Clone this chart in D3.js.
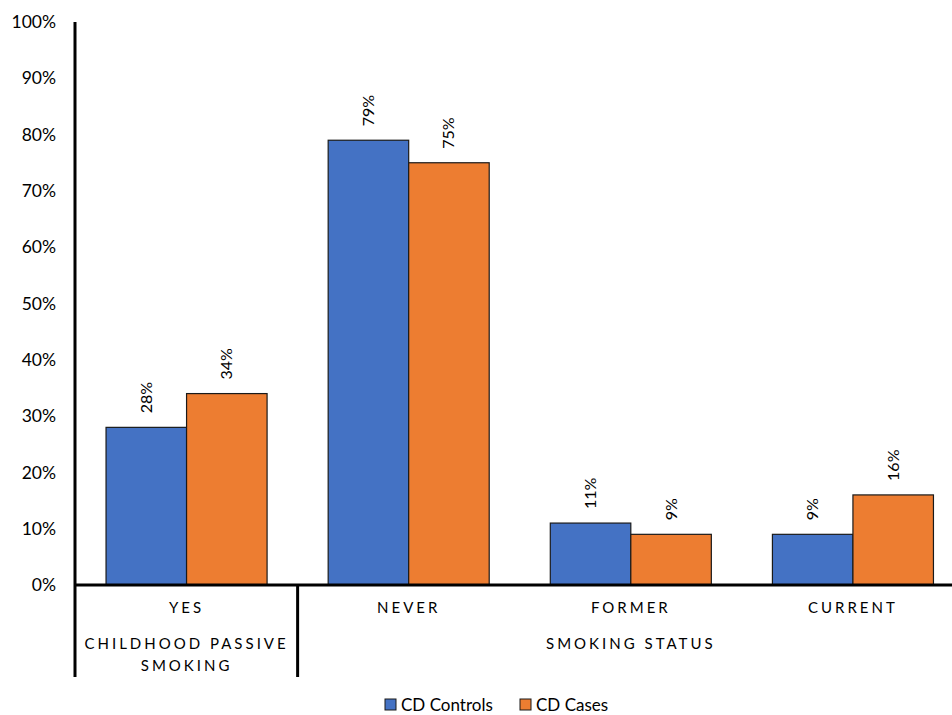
<!DOCTYPE html>
<html><head><meta charset="utf-8">
<script src="https://cdn.jsdelivr.net/npm/d3@7"></script>
<style>body{margin:0;background:#fff;} svg{display:block;font-family:Lato,"Open Sans",sans-serif;}</style>
</head><body>
<svg id="c" width="952" height="715"></svg>
<script>
const categories = ["YES","NEVER","FORMER","CURRENT"];
const seriesNames = ["CD Controls","CD Cases"];
const controls = [28,79,11,9];
const cases = [34,75,9,16];
const yTicks = [0,10,20,30,40,50,60,70,80,90,100];
const groups = [{name:["CHILDHOOD PASSIVE","SMOKING"], cats:["YES"]},{name:["SMOKING STATUS"], cats:["NEVER","FORMER","CURRENT"]}];
const colors = ["#4472C4","#ED7D31"];

const svg = d3.select("#c");
const x0 = d3.scaleBand().domain(categories).range([75.5,964]).paddingInner(0.275).paddingOuter(0.1375);
const x1 = d3.scaleBand().domain(seriesNames).range([0,x0.bandwidth()]);
const y = d3.scaleLinear().domain([0,100]).range([585,22]);

// y tick labels
svg.append("g").selectAll("text").data(yTicks).join("text")
  .attr("x",56).attr("y",d=>y(d)).attr("dy","0.35em").attr("text-anchor","end")
  .attr("font-size",17.5).attr("fill","#000").text(d=>d+"%");

const data = categories.map((c,i)=>({cat:c, vals:[controls[i],cases[i]]}));
const g = svg.append("g").selectAll("g").data(data).join("g")
  .attr("transform",d=>`translate(${x0(d.cat)},0)`);
g.selectAll("rect").data(d=>d.vals.map((v,j)=>({v,s:seriesNames[j],j}))).join("rect")
  .attr("x",d=>x1(d.s)).attr("y",d=>y(d.v)).attr("width",x1.bandwidth()).attr("height",d=>y(0)-y(d.v))
  .attr("fill",d=>colors[d.j]).attr("stroke","#1a1a1a").attr("stroke-width",1.2);
g.selectAll("text").data(d=>d.vals.map((v,j)=>({v,s:seriesNames[j],j}))).join("text")
  .attr("transform",d=>`translate(${x1(d.s)+x1.bandwidth()/2+5.5},${y(d.v)-14}) rotate(-90)`)
  .attr("font-size",16).attr("fill","#000").text(d=>d.v+"%");

// axes lines
const left = 75;
svg.append("line").attr("x1",left).attr("x2",left).attr("y1",y(100)).attr("y2",677).attr("stroke","#000").attr("stroke-width",3);
svg.append("line").attr("x1",left).attr("x2",952).attr("y1",y(0)).attr("y2",y(0)).attr("stroke","#000").attr("stroke-width",3);
const divX = x0("YES") + x0.bandwidth() + (x0.step()-x0.bandwidth())/2;
svg.append("line").attr("x1",divX).attr("x2",divX).attr("y1",y(0)).attr("y2",677).attr("stroke","#000").attr("stroke-width",3);

// category labels
svg.append("g").selectAll("text").data(categories).join("text")
  .attr("x",d=>x0(d)+x0.bandwidth()/2).attr("y",613).attr("text-anchor","middle")
  .attr("font-size",15).attr("letter-spacing","3px").attr("fill","#000").text(d=>d);

// group labels
groups.forEach(gr=>{
  const xs = gr.cats.map(c=>x0(c)+x0.bandwidth()/2);
  const cx = (d3.min(xs)+d3.max(xs))/2;
  gr.name.forEach((line,k)=>{
    svg.append("text").attr("x",cx).attr("y",649+k*22).attr("text-anchor","middle")
      .attr("font-size",15).attr("letter-spacing","3px").attr("fill","#000").text(line);
  });
});

// legend
const legend = svg.append("g");
const legX = [385,520];
seriesNames.forEach((s,i)=>{
  legend.append("rect").attr("x",legX[i]).attr("y",699).attr("width",11).attr("height",11)
    .attr("fill",colors[i]).attr("stroke","#1a1a1a").attr("stroke-width",1);
  legend.append("text").attr("x",legX[i]+16).attr("y",711).attr("font-size",17).attr("fill","#000").text(s);
});
</script>
</body></html>
